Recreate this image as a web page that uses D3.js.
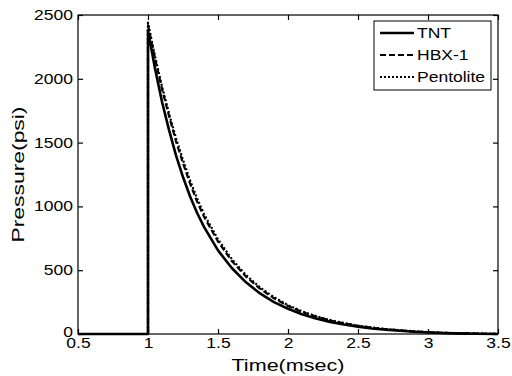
<!DOCTYPE html>
<html><head><meta charset="utf-8">
<script src="https://cdn.jsdelivr.net/npm/d3@7"></script>
<style>
html,body{margin:0;padding:0;background:#fff;}
svg text{font-family:"Liberation Sans",Arial,sans-serif;fill:#000;}
</style></head>
<body>
<svg id="chart" width="512" height="376"></svg>
<script>
// ---- data ----
const times =     [0.5, 1.0, 1.0, 1.05, 1.1, 1.15, 1.2, 1.25, 1.3, 1.35, 1.4, 1.5, 1.6, 1.7, 1.8, 1.9, 2.0, 2.1, 2.2, 2.3, 2.4, 2.5, 2.6, 2.7, 2.8, 2.9, 3.0, 3.1, 3.2, 3.35, 3.5];
const tnt =       [0, 0, 2380, 2080, 1820, 1600, 1400, 1230, 1080, 950, 840, 655, 515, 405, 318, 250, 198, 155, 122, 95, 74, 57, 43, 33, 25, 18, 12, 8, 5, 2, 0];
const hbx1 =      [0, 0, 2420, 2160, 1920, 1710, 1510, 1340, 1180, 1040, 920, 725, 570, 450, 355, 280, 220, 173, 136, 106, 83, 64, 49, 37, 28, 20, 14, 9, 6, 3, 1];
const pentolite = [0, 0, 2440, 2175, 1940, 1730, 1535, 1365, 1205, 1065, 940, 742, 585, 462, 365, 288, 226, 178, 140, 109, 86, 66, 51, 39, 29, 21, 15, 10, 6, 3, 1];
const seriesNames = ["TNT", "HBX-1", "Pentolite"];
const xTicks = [0.5, 1, 1.5, 2, 2.5, 3, 3.5];
const yTicks = [0, 500, 1000, 1500, 2000, 2500];
const xLabel = "Time(msec)";
const yLabel = "Pressure(psi)";

// ---- layout ----
const L = 78, T = 15, W = 420, H = 319;
const svg = d3.select("#chart");
const x = d3.scaleLinear().domain([0.5, 3.5]).range([L, L + W]);
const y = d3.scaleLinear().domain([0, 2500]).range([T + H, T]);
const STRETCH = 1.25;
function stretch(sel, f) {
  sel.each(function(){
    const n = this.getComputedTextLength();
    d3.select(this).attr("textLength", n * (f || STRETCH)).attr("lengthAdjust", "spacingAndGlyphs");
  });
}

// curves
const styles = [
  {data: tnt, width: 2.6, dash: null},
  {data: hbx1, width: 2.2, dash: "6,3"},
  {data: pentolite, width: 2.2, dash: "2,2"}
];
const line = d3.line().x(d => x(d[0])).y(d => y(d[1]));
const g = svg.append("g");
[2, 1, 0].forEach(i => {
  const s = styles[i];
  g.append("path")
    .datum(times.map((t, k) => [t, s.data[k]]))
    .attr("d", line)
    .attr("fill", "none")
    .attr("stroke", "#000")
    .attr("stroke-width", s.width)
    .attr("stroke-linejoin", "round")
    .attr("stroke-dasharray", s.dash);
});

// axes
const fs = 14;
const ax = svg.append("g").attr("transform", `translate(0,${T + H})`)
  .call(d3.axisBottom(x).tickValues(xTicks).tickFormat(d3.format("~g")).tickSize(-5).tickPadding(4));
const ay = svg.append("g").attr("transform", `translate(${L},0)`)
  .call(d3.axisLeft(y).tickValues(yTicks).tickFormat(d3.format("d")).tickSize(-5).tickPadding(5));
const at = svg.append("g").attr("transform", `translate(0,${T})`)
  .call(d3.axisTop(x).tickValues(xTicks).tickFormat("").tickSize(-5));
const ar = svg.append("g").attr("transform", `translate(${L + W},0)`)
  .call(d3.axisRight(y).tickValues(yTicks).tickFormat("").tickSize(-5));
[ax, ay, at, ar].forEach(a => {
  a.select(".domain").remove();
  a.selectAll("line").attr("stroke", "#000").attr("stroke-width", 1.2);
  a.selectAll("text").attr("font-size", fs).attr("font-family", null);
});
stretch(ax.selectAll("text"));
stretch(ay.selectAll("text"));
ax.selectAll("text").each(function(){
  const t = d3.select(this); const n = +t.attr("textLength");
  t.attr("text-anchor", "start").attr("x", -n / 2);
});
ay.selectAll("text").each(function(d){
  const t = d3.select(this); const n = +t.attr("textLength");
  t.attr("text-anchor", "start").attr("x", -5 - n);
  if (d === 0) t.attr("dy", "0.2em");
});

svg.append("rect").attr("x", L).attr("y", T).attr("width", W).attr("height", H)
  .attr("fill", "none").attr("stroke", "#000").attr("stroke-width", 1.2);

// titles
const xt = svg.append("text").attr("x", L + W / 2).attr("y", 371).attr("text-anchor", "middle")
  .attr("font-size", 16).text(xLabel);
xt.attr("textLength", 113).attr("lengthAdjust", "spacingAndGlyphs");
svg.append("text").attr("transform", `translate(24,${T + H / 2}) rotate(-90)`)
  .attr("text-anchor", "middle").attr("font-size", 17).text(yLabel)
  .attr("textLength", 136).attr("lengthAdjust", "spacingAndGlyphs");

// legend
const lg = svg.append("g");
lg.append("rect").attr("x", 374).attr("y", 21).attr("width", 117).attr("height", 69)
  .attr("fill", "#fff").attr("stroke", "#000").attr("stroke-width", 1);
const rowY = [33, 55, 77];
seriesNames.forEach((name, i) => {
  const s = styles[i];
  lg.append("line").attr("x1", 380).attr("x2", 414).attr("y1", rowY[i]).attr("y2", rowY[i])
    .attr("stroke", "#000").attr("stroke-width", s.width).attr("stroke-dasharray", s.dash);
  const t = lg.append("text").attr("x", 417).attr("y", rowY[i]).attr("dy", "0.35em")
    .attr("font-size", 14).text(name);
  stretch(t);
});
</script>
</body></html>
